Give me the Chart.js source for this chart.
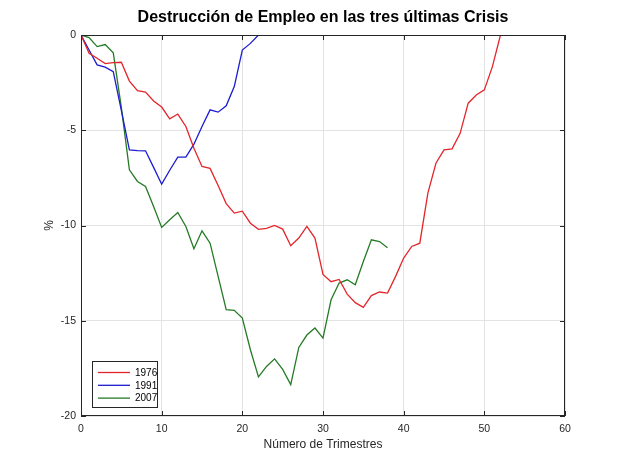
<!DOCTYPE html>
<html>
<head>
<meta charset="utf-8">
<script src="https://cdn.jsdelivr.net/npm/chart.js@4.4.1/dist/chart.umd.min.js"></script>
<style>
  html, body { margin: 0; padding: 0; background: #fff; }
  #wrap { width: 625px; height: 469px; }
</style>
</head>
<body>
<div id="wrap"><canvas id="crisisChart" width="625" height="469"></canvas></div>
<script>
// =====================
// Data (one value per quarter)
// =====================
const seriesNames = ["1976", "1991", "2007"];
const seriesColors = ["#e3262b", "#1c1cd0", "#257a25"];

const crisis1976 = [0, -0.96, -1.22, -1.5, -1.45, -1.43, -2.42, -2.92, -3.0, -3.46,
    -3.78, -4.4, -4.15, -4.8, -5.95, -6.9, -7.0, -7.9, -8.85, -9.35,
    -9.25, -9.88, -10.2, -10.15, -10.0, -10.19, -11.06, -10.66, -10.05, -10.66,
    -12.57, -12.95, -12.83, -13.6, -14.05, -14.3, -13.68, -13.49, -13.55, -12.67,
    -11.71, -11.1, -10.93, -8.3, -6.73, -6.03, -5.98, -5.16, -3.58, -3.15,
    -2.88, -1.66, 0];
const crisis1991 = [0, -0.79, -1.57, -1.69, -1.92, -3.96, -6.03, -6.07, -6.08, -6.95,
    -7.83, -7.1, -6.41, -6.41, -5.73, -4.8, -3.93, -4.05, -3.72, -2.71,
    -0.79, -0.44, 0];
const crisis2007 = [0, -0.14, -0.61, -0.5, -0.94, -3.8, -7.08, -7.69, -7.95, -9.0,
    -10.1, -9.7, -9.32, -10.05, -11.22, -10.28, -10.93, -12.67, -14.42, -14.45,
    -14.86, -16.52, -17.95, -17.4, -17.0, -17.55, -18.35, -16.4, -15.75, -15.38,
    -15.91, -13.9, -13.02, -12.85, -13.11, -11.89, -10.75, -10.84, -11.17];
const allSeries = [crisis1976, crisis1991, crisis2007];

const xTicks = [0, 10, 20, 30, 40, 50, 60];
const yTicks = [-20, -15, -10, -5, 0];

const axisColor = "#262626";
const gridColor = "#e3e3e3";
const fontFamily = "'Liberation Sans', Arial, sans-serif";

// =====================
// Plugins: MATLAB-like box, inward ticks and legend in the corner
// =====================
const boxPlugin = {
    id: "boxPlugin",
    afterDatasetsDraw(chart) {
        const { ctx, chartArea: a, scales } = chart;
        ctx.save();
        ctx.strokeStyle = axisColor;
        ctx.lineWidth = 1;
        ctx.strokeRect(a.left + 0.5, a.top + 0.5, a.right - a.left - 1, a.bottom - a.top - 1);
        const len = 5;
        ctx.beginPath();
        xTicks.forEach(v => {
            const px = Math.round(scales.x.getPixelForValue(v)) + 0.5;
            ctx.moveTo(px, a.bottom); ctx.lineTo(px, a.bottom - len);
            ctx.moveTo(px, a.top); ctx.lineTo(px, a.top + len);
        });
        yTicks.forEach(v => {
            const py = Math.round(scales.y.getPixelForValue(v)) + 0.5;
            ctx.moveTo(a.left, py); ctx.lineTo(a.left + len, py);
            ctx.moveTo(a.right, py); ctx.lineTo(a.right - len, py);
        });
        ctx.stroke();

        // legend box (south west)
        const lx = 92, ly = 361, lw = 65, lh = 46;
        ctx.fillStyle = "#fff";
        ctx.fillRect(lx, ly, lw, lh);
        ctx.strokeStyle = axisColor;
        ctx.strokeRect(lx + 0.5, ly + 0.5, lw, lh);
        ctx.font = "10px " + fontFamily;
        ctx.textBaseline = "middle";
        chart.data.datasets.forEach((ds, i) => {
            const y = ly + 11.5 + i * 12.8;
            ctx.strokeStyle = ds.borderColor;
            ctx.lineWidth = 1.3;
            ctx.beginPath();
            ctx.moveTo(lx + 6, y); ctx.lineTo(lx + 38, y);
            ctx.stroke();
            ctx.fillStyle = "#000";
            ctx.fillText(ds.label, lx + 43, y + 0.5);
        });
        ctx.restore();
    }
};

// =====================
// Chart
// =====================
const datasets = seriesNames.map((name, i) => ({
    label: name,
    data: allSeries[i].map((v, q) => ({ x: q, y: v })),
    borderColor: seriesColors[i],
    backgroundColor: seriesColors[i],
    borderWidth: 1.3,
    pointRadius: 0,
    tension: 0,
    fill: false
}));

const tickFont = { family: fontFamily, size: 10.5 };

new Chart(document.getElementById("crisisChart").getContext("2d"), {
    type: "line",
    data: { datasets },
    options: {
        responsive: false,
        animation: false,
        layout: { padding: { left: 0, right: 60, top: 0, bottom: 0 } },
        plugins: {
            legend: { display: false },
            tooltip: { enabled: false },
            title: {
                display: true,
                fullSize: false,
                text: "Destrucción de Empleo en las tres últimas Crisis",
                color: "#000",
                font: { family: fontFamily, size: 16, weight: "bold" },
                padding: { top: 8, bottom: 7.8 }
            }
        },
        scales: {
            x: {
                type: "linear",
                min: 0,
                max: 60,
                afterFit: s => { s.height = 53; },
                afterBuildTicks: s => { s.ticks = xTicks.map(v => ({ value: v })); },
                grid: { color: gridColor, drawTicks: false },
                border: { display: false },
                ticks: { color: axisColor, font: tickFont, padding: 7, maxRotation: 0 },
                title: {
                    display: true,
                    text: "Número de Trimestres",
                    color: axisColor,
                    font: { family: fontFamily, size: 12 },
                    padding: { top: 0, bottom: 17 }
                }
            },
            y: {
                type: "linear",
                min: -20,
                max: 0,
                afterFit: s => { s.width = 81; },
                afterBuildTicks: s => { s.ticks = yTicks.map(v => ({ value: v })); },
                grid: { color: gridColor, drawTicks: false },
                border: { display: false },
                ticks: { color: axisColor, font: tickFont, padding: 5 },
                title: {
                    display: true,
                    text: "%",
                    color: axisColor,
                    font: { family: fontFamily, size: 12 },
                    padding: { top: 42, bottom: 0 }
                }
            }
        }
    },
    plugins: [boxPlugin]
});
</script>
</body>
</html>
